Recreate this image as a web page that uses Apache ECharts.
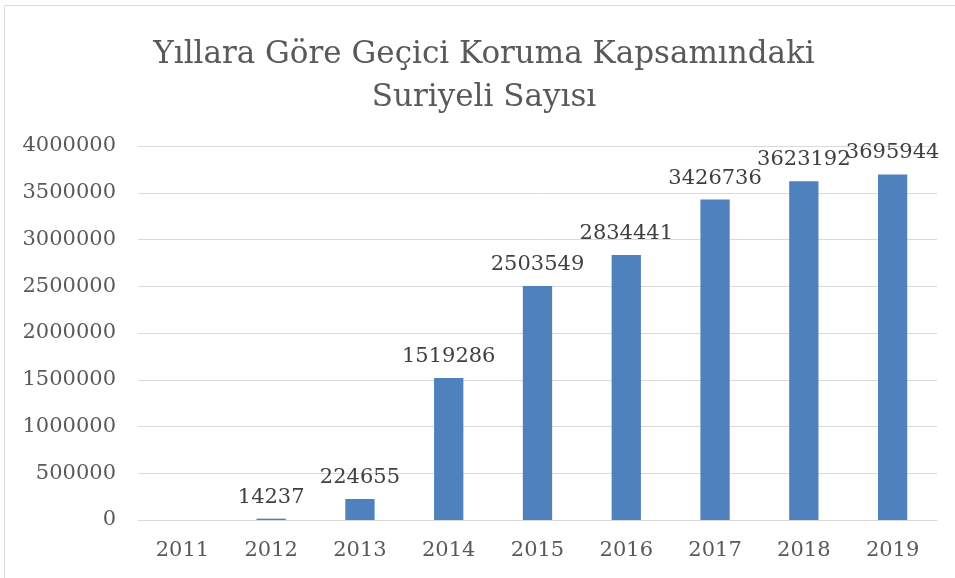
<!DOCTYPE html>
<html>
<head>
<meta charset="utf-8">
<script src="https://cdn.jsdelivr.net/npm/echarts@6/dist/echarts.min.js"></script>
<style>
html,body{margin:0;padding:0;background:#fff;}
#chart{width:955px;height:578px;}
</style>
</head>
<body>
<div id="chart"></div>
<script>
const titleLines = ['Yıllara Göre Geçici Koruma Kapsamındaki', 'Suriyeli Sayısı'];
const years = ['2011', '2012', '2013', '2014', '2015', '2016', '2017', '2018', '2019'];
const counts = [null, 14237, 224655, 1519286, 2503549, 2834441, 3426736, 3623192, 3695944];
const yTicks = { min: 0, max: 4000000, interval: 500000 };

const FONT = '"DejaVu Serif", serif';
const chart = echarts.init(document.getElementById('chart'));
chart.setOption({
  animation: false,
  backgroundColor: '#ffffff',
  graphic: [
    { type: 'rect', shape: { x: 4.5, y: 5.5, width: 1200, height: 1200 },
      style: { fill: 'none', stroke: '#d9d9d9', lineWidth: 1 }, silent: true },
    { type: 'text', x: 484, y: 33,
      style: { text: titleLines.join('\n'), font: '31px ' + FONT, fill: '#595959',
               textAlign: 'center', lineHeight: 43 } }
  ],
  grid: { left: 138, right: 18, top: 146, bottom: 58, containLabel: false },
  xAxis: {
    type: 'category', data: years,
    axisLine: { lineStyle: { color: '#d9d9d9', width: 1 } },
    axisTick: { show: false },
    axisLabel: { color: '#595959', fontFamily: FONT, fontSize: 21, margin: 20 }
  },
  yAxis: {
    type: 'value', min: yTicks.min, max: yTicks.max, interval: yTicks.interval,
    axisLine: { show: false }, axisTick: { show: false },
    splitLine: { lineStyle: { color: '#d9d9d9', width: 1 } },
    axisLabel: { color: '#595959', fontFamily: FONT, fontSize: 21, margin: 22,
                 formatter: v => String(v) }
  },
  series: [{
    type: 'bar', data: counts, barWidth: '33%',
    itemStyle: { color: '#4f81bd' },
    label: { show: true, position: 'top', distance: 11, color: '#404040',
             fontFamily: FONT, fontSize: 21 }
  }]
});
</script>
</body>
</html>
